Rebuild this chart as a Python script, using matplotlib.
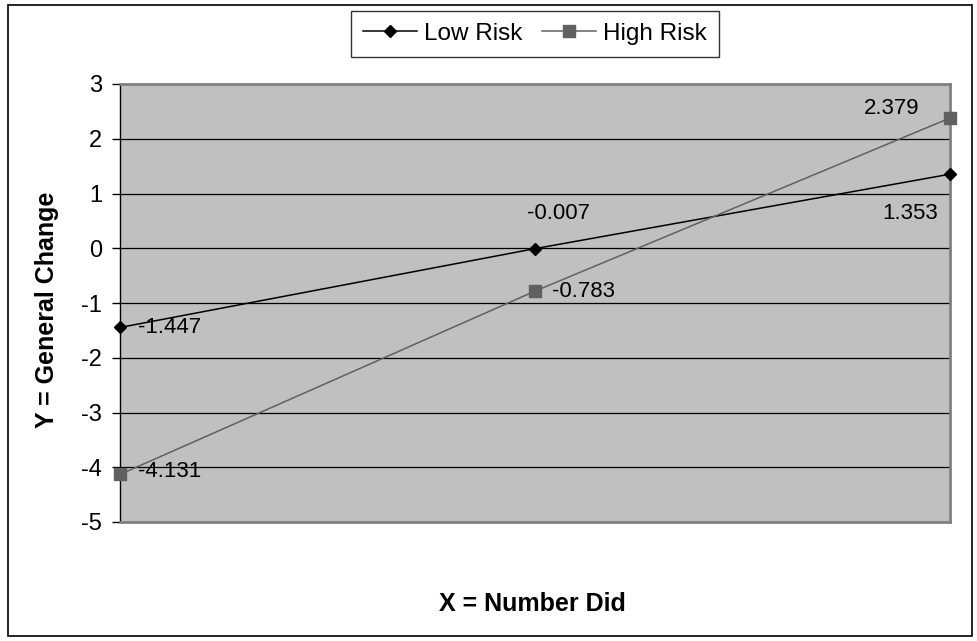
import matplotlib
matplotlib.use("Agg")
import matplotlib.pyplot as plt
from matplotlib.patches import Rectangle

x_vals = [0, 1, 2]
low_risk = [-1.447, -0.007, 1.353]
high_risk = [-4.131, -0.783, 2.379]
y_ticks = [3, 2, 1, 0, -1, -2, -3, -4, -5]

plt.rcParams['font.family'] = ['Liberation Sans', 'DejaVu Sans']
plt.rcParams['axes.unicode_minus'] = False

fig = plt.figure(figsize=(9.77, 6.41), dpi=100)
W, H = 977, 641
ax = fig.add_axes([120 / W, 1 - 522 / H, 830 / W, 438 / H])
ax.set_facecolor('#C0C0C0')

fig.patches.append(Rectangle((8 / W, 5 / H), 964 / W, 631 / H, transform=fig.transFigure,
                             fill=False, edgecolor='black', linewidth=1.2))

for t in y_ticks:
    ax.axhline(t, color='black', linewidth=0.9, zorder=1)

l1, = ax.plot(x_vals, low_risk, color='black', linewidth=1.1, marker='D', markersize=6,
              clip_on=False, zorder=3, label='Low Risk')
l2, = ax.plot(x_vals, high_risk, color='#606060', linewidth=1.1, marker='s', markersize=9,
              markerfacecolor='#606060', markeredgecolor='#606060',
              clip_on=False, zorder=3, label='High Risk')

ax.set_xlim(0, 2)
ax.set_ylim(-5, 3)
ax.set_yticks(y_ticks)
ax.set_xticks([])
ax.tick_params(axis='y', labelsize=17, length=6, width=1, pad=7)
for s in ['top', 'right', 'bottom']:
    ax.spines[s].set_color('#808080')
    ax.spines[s].set_linewidth(2)
ax.spines['left'].set_color('black')
ax.spines['left'].set_linewidth(1)

fs = 16
# Low risk labels
ax.annotate(f"{low_risk[0]:.3f}", (x_vals[0], low_risk[0]), xytext=(13, 0),
            textcoords='offset points', fontsize=fs, va='center', ha='left')
ax.annotate(f"{low_risk[1]:.3f}", (x_vals[1], low_risk[1]), xytext=(17, 25),
            textcoords='offset points', fontsize=fs, va='center', ha='center')
ax.annotate(f"{low_risk[2]:.3f}", (x_vals[2], low_risk[2]), xytext=(-9, -28),
            textcoords='offset points', fontsize=fs, va='center', ha='right')
# High risk labels
ax.annotate(f"{high_risk[0]:.3f}", (x_vals[0], high_risk[0]), xytext=(13, 2),
            textcoords='offset points', fontsize=fs, va='center', ha='left')
ax.annotate(f"{high_risk[1]:.3f}", (x_vals[1], high_risk[1]), xytext=(12, 0),
            textcoords='offset points', fontsize=fs, va='center', ha='left')
ax.annotate(f"{high_risk[2]:.3f}", (x_vals[2], high_risk[2]), xytext=(-22, 7),
            textcoords='offset points', fontsize=fs, va='center', ha='right')

fig.text(47 / W, 1 - 310 / H, 'Y = General Change', fontsize=18, fontweight='bold',
         rotation=90, ha='center', va='center')
fig.text(532 / W, 1 - 604 / H, 'X = Number Did', fontsize=18, fontweight='bold',
         ha='center', va='center')

leg = fig.legend(handles=[l1, l2], loc='center', bbox_to_anchor=(535 / W, 1 - 34 / H),
                 ncol=2, frameon=True, fancybox=False, fontsize=17.5, handlelength=2.2,
                 columnspacing=0.8, handletextpad=0.3, borderpad=0.5, borderaxespad=0)
leg.get_frame().set_edgecolor('black')
leg.get_frame().set_linewidth(1)

fig.savefig('out.png', dpi=100, facecolor='white')
